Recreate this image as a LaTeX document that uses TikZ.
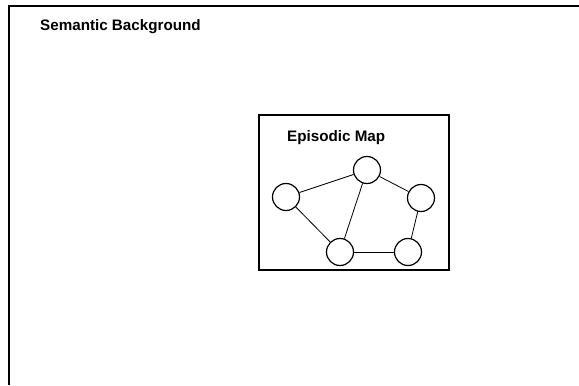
\documentclass[tikz,border=0pt]{standalone}
\usepackage{fontspec}
\setmainfont{Liberation Sans}
\begin{document}
\begin{tikzpicture}[x=1pt,y=-1pt,
  lbl/.style={font=\bfseries\fontsize{15.2}{17}\selectfont, inner sep=0pt, anchor=west},
  frame/.style={line width=1.3pt, black},
  ep/.style={circle, draw, line width=1.2pt, minimum size=27pt, inner sep=0pt},
  link/.style={line width=0.8pt}]
  \useasboundingbox (0,0) rectangle (579,386);
  % outer frame (top and left edges visible)
  \coordinate (tl) at (9,6);
  \coordinate (tr) at (579,6);
  \coordinate (bl) at (9,385);
  \draw[frame] (tr) -- (tl) -- (bl);
  \node[lbl] (sb) at (40,27) {Semantic Background};
  % episodic map box
  \node[draw, line width=1.2pt, minimum width=190pt, minimum height=155pt, inner sep=0pt] (box) at (354,192.5) {};
  \node[lbl] (em) at (287,138) {Episodic Map};
  \node[ep] (a) at (286,197) {};
  \node[ep] (b) at (367,170) {};
  \node[ep] (c) at (421,198) {};
  \node[ep] (d) at (340,252) {};
  \node[ep] (e) at (408,252) {};
  \draw[link] (a) -- (b);
  \draw[link] (a) -- (d);
  \draw[link] (b) -- (d);
  \draw[link] (b) -- (c);
  \draw[link] (c) -- (e);
  \draw[link] (d) -- (e);
\end{tikzpicture}
\end{document}
